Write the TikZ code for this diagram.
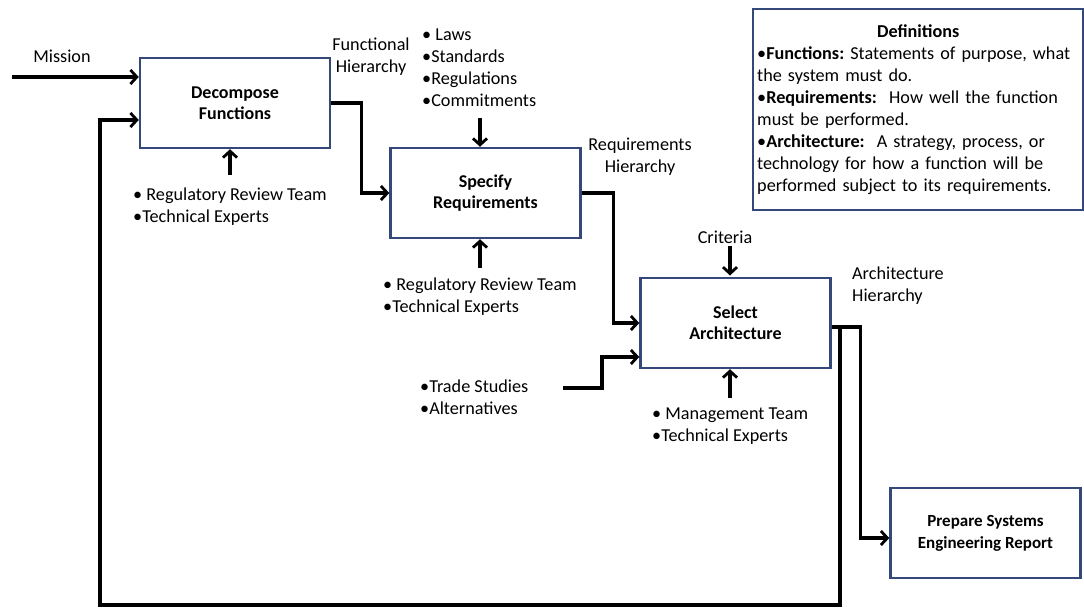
\documentclass[tikz,border=0pt]{standalone}
\usepackage{fontspec}
\setmainfont{Carlito}
\usetikzlibrary{arrows.meta,calc}
\definecolor{boxblue}{RGB}{52,72,122}
\frenchspacing
\begin{document}
\begin{tikzpicture}[x=1pt,y=-1pt,
  every node/.style={font=\fontsize{18.2}{22}\selectfont, inner sep=0pt},
  procbox/.style={draw=boxblue, line width=2.4pt, minimum width=190pt, minimum height=90pt,
    align=center, font=\fontsize{18}{21}\selectfont\bfseries},
  arr/.style={line width=3.2pt, line join=miter, -{Straight Barb[length=6.5pt,width=14pt,line width=2.8pt]}},
  lst/.style={align=left, anchor=west},
  lbl/.style={align=center}]
  \useasboundingbox (0,0) rectangle (1084,609);

  % process boxes
  \node[procbox] (dec)  at (235,103)   {Decompose\\Functions};
  \node[procbox] (spec) at (485.5,193) {Specify\\Requirements};
  \node[procbox] (sel)  at (735.5,323) {Select\\Architecture};
  \node[procbox, font=\fontsize{17}{22}\selectfont\bfseries] (rep) at (985.5,533) {Prepare Systems\\Engineering Report};

  % labels and input lists
  \node[lbl] (mission) at (62,56) {Mission};
  \node[lbl] (funh) at (371,57) {Functional\\Hierarchy};
  \node[lst] (laws) at (422,68) {• Laws\\•Standards\\•Regulations\\•Commitments};
  \node[lst] (decsup) at (133,207) {• Regulatory Review Team\\•Technical Experts};
  \node[lbl] (reqh) at (640,157) {Requirements\\Hierarchy};
  \node[lst] (specsup) at (383,297) {• Regulatory Review Team\\•Technical Experts};
  \node[lbl] (crit) at (725,237) {Criteria};
  \node[lst] (archh) at (852,286) {Architecture\\Hierarchy};
  \node[lst] (trade) at (420,397) {•Trade Studies\\•Alternatives};
  \node[lst] (mgmt) at (652,426) {• Management Team\\•Technical Experts};

  % definitions panel
  \node[draw=boxblue, line width=2.4pt, anchor=north west, minimum width=330pt, minimum height=201pt,
        align=left, inner sep=4pt, text width=322pt] (defs) at (752,8)
    {{\centering\textbf{Definitions}\par}
     •\textbf{Functions:} Statements of purpose, what\\
     the system must do.\\
     •\textbf{Requirements:}\ \ How well the function\\
     must be performed.\\
     •\textbf{Architecture:}\ \ A strategy, process, or\\
     technology for how a function will be\\
     performed subject to its requirements.};

  % free ends
  \coordinate (m0) at (12,77);
  \coordinate (lawsIn) at (480,118);
  \coordinate (decSupIn) at (230,175);
  \coordinate (specSupIn) at (480,268);
  \coordinate (mgmtIn) at (730,398);
  \coordinate (tr0) at (563,388);
  \coordinate (fbR) at (840,605);
  \coordinate (fbL) at (100,605);

  % flow
  \draw[arr] (m0) -- (m0 -| dec.west);
  \draw[arr] (decSupIn) -- (decSupIn |- dec.south);
  \draw[arr] (dec.east) -- ++(30,0) |- (spec.west);
  \draw[arr] (lawsIn) -- (lawsIn |- spec.north);
  \draw[arr] (specSupIn) -- (specSupIn |- spec.south);
  \draw[arr] (spec.east) -- ++(32,0) |- (sel.west);
  \draw[arr] (tr0) -- ++(39,0) |- ([yshift=-34pt]sel.west);
  \draw[arr] (crit.south) ++(5,2) -- ++(0,30);
  \draw[arr] (mgmtIn) -- (mgmtIn |- sel.south);
  \draw[arr] ([yshift=-4pt]sel.east) -- ++(29,0) |- ([yshift=-5pt]rep.west);
  \draw[arr] ([yshift=-4pt]sel.east) -| (fbR) -- (fbL) |- ([yshift=-17pt]dec.west);
\end{tikzpicture}
\end{document}
